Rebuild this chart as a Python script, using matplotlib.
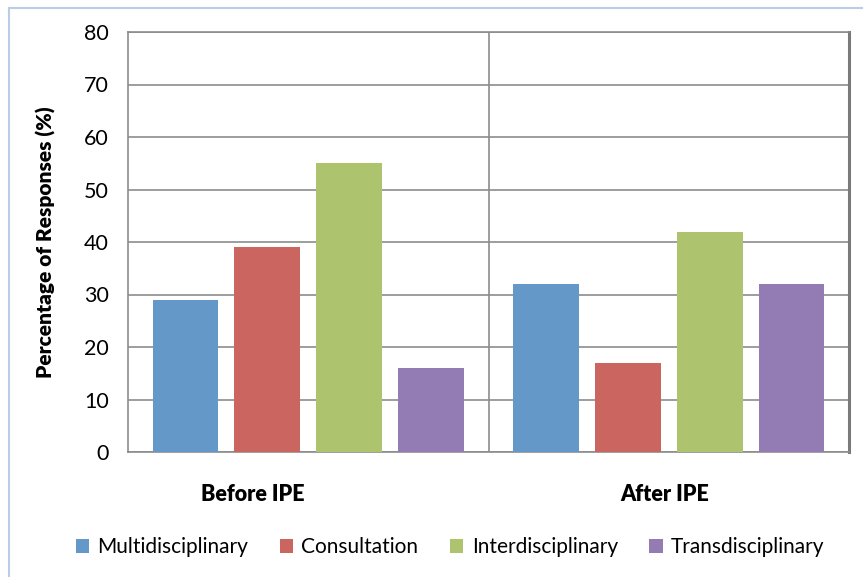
import numpy as np
import matplotlib
matplotlib.use('Agg')
import matplotlib.pyplot as plt
from matplotlib.lines import Line2D

plt.rcParams['font.family'] = ['Lato', 'DejaVu Sans']

groups = ['Before IPE', 'After IPE']
series = ['Multidisciplinary', 'Consultation', 'Interdisciplinary', 'Transdisciplinary']
values = {
    'Multidisciplinary': [29, 32],
    'Consultation': [39, 17],
    'Interdisciplinary': [55, 42],
    'Transdisciplinary': [16, 32],
}
colors = ['#6398C9', '#CA655F', '#ADC36D', '#937CB3']

fig = plt.figure(figsize=(8.63, 5.77), dpi=100)
ax = fig.add_axes([128/863, 1-452/577, (849-128)/863, (452-32)/577])

centers = np.arange(len(groups)) + 0.5
width = 0.183
step = 0.227
for i, (name, c) in enumerate(zip(series, colors)):
    off = (i - 1.5) * step
    ax.bar(centers + off, values[name], width, color=c, label=name, zorder=3)

ax.set_xlim(0, 2)
ax.set_ylim(0, 80)
ax.set_yticks(np.arange(0, 81, 10))
ax.yaxis.grid(True, color='#8C8C8C', linewidth=1.2, zorder=0)
ax.axvline(1, color='#8C8C8C', linewidth=1.2, zorder=1)
ax.tick_params(axis='y', length=0, labelsize=15.5, pad=14)
ax.tick_params(axis='x', length=0, labelsize=15.5, pad=23)
ax.set_xticks([0.346, 1.488])
ax.set_xticklabels(groups, fontweight='heavy')
for s in ax.spines.values():
    s.set_color('#8C8C8C')
    s.set_linewidth(1.2)
ax.spines['right'].set_color('#7A7A7A')
ax.spines['right'].set_linewidth(2.2)
ax.set_ylabel('Percentage of Responses (%)', fontsize=15, fontweight='heavy', labelpad=20)

fig.legend(loc='center', bbox_to_anchor=(450/863, 1-547/577), ncol=4, frameon=False,
           fontsize=15, handlelength=0.65, handleheight=0.65, handletextpad=0.4,
           columnspacing=1.5)

# outer chart border (light blue)
border = '#B9CDE5'
fig.add_artist(Line2D([9/863, 1], [1-8/577, 1-8/577], color=border, linewidth=1.5))
fig.add_artist(Line2D([9/863, 9/863], [0, 1-8/577], color=border, linewidth=1.5))

fig.savefig('out.png', dpi=100)
